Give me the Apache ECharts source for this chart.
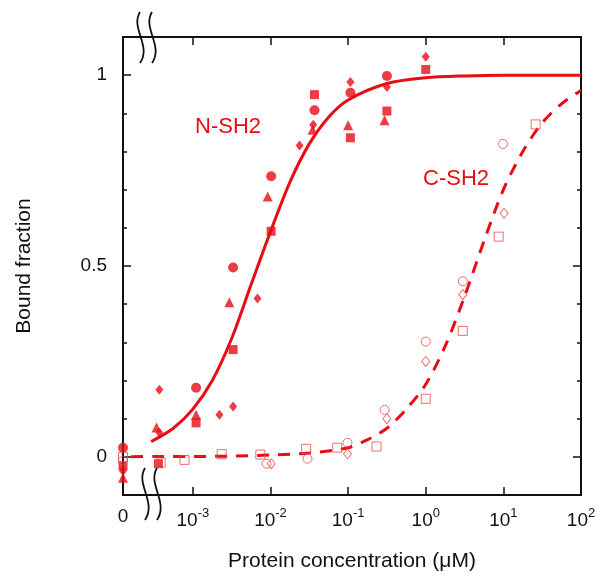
<!DOCTYPE html>
<html>
<head>
<meta charset="utf-8">
<script src="https://cdn.jsdelivr.net/npm/echarts@6/dist/echarts.min.js"></script>
<style>
  html, body { margin: 0; padding: 0; background: #fff; }
  #main { width: 599px; height: 579px; }
</style>
</head>
<body>
<div id="main"></div>
<script>
// concentrations in uM, 0 = no protein (drawn left of the axis break)
let xTicks = [-3, -2, -1, 0, 1, 2]
let yLabels = [0, 0.5, 1]

// N-SH2, filled symbols
let nCircle = [[0, 0.024], [1.1e-3, 0.181], [3.3e-3, 0.496], [0.0102, 0.735], [0.0369, 0.908], [0.107, 0.954], [0.316, 0.998]]
let nTriangle = [[0, -0.055], [3.4e-4, 0.077], [1.1e-3, 0.11], [2.95e-3, 0.405], [9.2e-3, 0.682], [0.0348, 0.857], [0.1, 0.869], [0.295, 0.882]]
let nSquare = [[0, -0.024], [3.6e-4, -0.018], [1.1e-3, 0.089], [3.3e-3, 0.281], [0.0102, 0.591], [0.0369, 0.949], [0.107, 0.836], [0.316, 0.906], [1.0, 1.015]]
let nDiamond = [[0, -0.037], [3.7e-4, 0.176], [3.7e-4, 0.064], [2.2e-3, 0.11], [3.3e-3, 0.132], [6.8e-3, 0.415], [0.0237, 0.816], [0.0355, 0.87], [0.107, 0.982], [0.316, 0.969], [1.0, 1.048]]

// C-SH2, open symbols
let cSquare = [[0, 0.0], [3.85e-4, -0.015], [7.8e-4, -0.008], [2.35e-3, 0.007], [7.4e-3, 0.006], [0.0288, 0.021], [0.0724, 0.024], [0.232, 0.027], [1.0, 0.152], [3.0, 0.33], [8.7, 0.577], [26, 0.871]]
let cCircle = [[0, -0.01], [8.9e-3, -0.018], [0.030, -0.005], [0.098, 0.037], [0.295, 0.123], [1.0, 0.302], [3.0, 0.46], [9.9, 0.82]]
let cDiamond = [[0.0102, -0.018], [0.098, 0.008], [0.316, 0.10], [1.0, 0.25], [3.0, 0.425], [10.2, 0.638]]

// fitted curves
let nCurve = [[2.9e-4, 0.04], [5.6e-4, 0.075], [1e-3, 0.125], [1.78e-3, 0.2], [3.16e-3, 0.31], [5.6e-3, 0.45], [0.01, 0.59], [0.0178, 0.72], [0.0316, 0.82], [0.056, 0.89], [0.1, 0.935], [0.316, 0.978], [1, 0.993], [3.16, 0.998], [10, 1.0], [100, 1.0]]
let cCurve = [[1.6e-4, 0.0], [3.16e-4, 0.001], [1e-3, 0.001], [3.16e-3, 0.002], [0.01, 0.005], [0.0316, 0.01], [0.1, 0.024], [0.178, 0.045], [0.316, 0.075], [0.562, 0.125], [1, 0.19], [1.78, 0.29], [3.16, 0.42], [5.62, 0.565], [10, 0.70], [17.8, 0.80], [31.6, 0.875], [56.2, 0.925], [100, 0.96]]

const ZERO_X = -3.9
const RED = '#e60d14'
const OPEN = '#f04848'
const FONT = 'Liberation Sans, Arial, sans-serif'

function toLog(list) {
  return list.map(p => [p[0] === 0 ? ZERO_X : Math.log10(p[0]), p[1]])
}

function filled(name, symbol, size, data) {
  return {
    name: name, type: 'scatter', symbol: symbol, symbolSize: size,
    data: toLog(data), clip: false, z: 4,
    itemStyle: { color: RED }
  }
}
function open(name, symbol, size, data) {
  return {
    name: name, type: 'scatter', symbol: symbol, symbolSize: size,
    data: toLog(data), clip: false, z: 4,
    itemStyle: { color: 'rgba(255,255,255,0)', borderColor: OPEN, borderWidth: 1 }
  }
}

let axisBase = {
  min: -3.9, max: 2, type: 'value',
  axisLine: { show: true, onZero: false, lineStyle: { color: '#111', width: 2 } },
  splitLine: { show: false }
}
let yBase = {
  type: 'value', min: -0.1, max: 1.1, interval: 0.1,
  axisLine: { show: true, onZero: false, lineStyle: { color: '#111', width: 2 } },
  splitLine: { show: false }
}

var myChart = echarts.init(document.getElementById('main'))

var option = {
  backgroundColor: '#fff',
  animation: false,
  grid: { left: 123, right: 18, top: 37, bottom: 84, containLabel: false, outerBoundsMode: 'none' },
  xAxis: [
    Object.assign({}, axisBase, {
      position: 'bottom',
      name: 'Protein concentration (\u03bcM)',
      nameLocation: 'middle', nameGap: 56,
      nameTextStyle: { fontSize: 21, color: '#111', fontFamily: FONT },
      axisTick: { inside: true, length: 8, customValues: xTicks.slice(0, 5), lineStyle: { color: '#111', width: 1.5 } },
      axisLabel: {
        customValues: [ZERO_X].concat(xTicks),
        margin: 12,
        formatter: function (v) {
          if (v < -3.5) return '{b|0}'
          return '{b|10}{s|' + v + '}'
        },
        rich: {
          b: { fontSize: 19, color: '#111', fontFamily: FONT },
          s: { fontSize: 13, color: '#111', fontFamily: FONT, padding: [0, 0, 14, 0] }
        }
      }
    }),
    Object.assign({}, axisBase, {
      position: 'top',
      axisTick: { inside: true, length: 8, customValues: xTicks.slice(0, 5), lineStyle: { color: '#111', width: 1.5 } },
      axisLabel: { show: false }
    })
  ],
  yAxis: [
    Object.assign({}, yBase, {
      position: 'left',
      name: 'Bound fraction', nameLocation: 'middle', nameGap: 88, nameRotate: 90,
      nameTextStyle: { fontSize: 21, color: '#111', fontFamily: FONT },
      axisTick: { inside: true, length: 4, lineStyle: { color: '#111', width: 1.5 } },
      axisLabel: { customValues: yLabels, margin: 16, fontSize: 19, color: '#111', fontFamily: FONT }
    }),
    Object.assign({}, yBase, {
      position: 'left',
      axisTick: { inside: true, length: 8, customValues: yLabels, lineStyle: { color: '#111', width: 1.5 } },
      axisLabel: { show: false }
    }),
    Object.assign({}, yBase, {
      position: 'right',
      axisTick: { inside: true, length: 4, lineStyle: { color: '#111', width: 1.5 } },
      axisLabel: { show: false }
    }),
    Object.assign({}, yBase, {
      position: 'right',
      axisTick: { inside: true, length: 8, customValues: yLabels, lineStyle: { color: '#111', width: 1.5 } },
      axisLabel: { show: false }
    })
  ],
  series: [
    {
      name: 'N-SH2 fit', type: 'line', data: toLog(nCurve), smooth: 0.3,
      symbol: 'none', clip: false, z: 3,
      lineStyle: { color: RED, width: 3 }
    },
    {
      name: 'C-SH2 fit', type: 'line', data: toLog(cCurve), smooth: 0.3,
      symbol: 'none', clip: false, z: 3,
      lineStyle: { color: RED, width: 3, type: [12, 9] }
    },
    filled('N circle', 'circle', 10, nCircle),
    filled('N triangle', 'triangle', 10, nTriangle),
    filled('N square', 'rect', 9, nSquare),
    filled('N diamond', 'diamond', [8, 10], nDiamond),
    open('C square', 'rect', 9, cSquare),
    open('C circle', 'circle', 9, cCircle),
    open('C diamond', 'diamond', [8, 10], cDiamond)
  ],
  graphic: [
    { type: 'text', left: 195, top: 116, z: 10, style: { text: 'N-SH2', fill: RED, font: '22px ' + FONT } },
    { type: 'text', left: 423, top: 168, z: 10, style: { text: 'C-SH2', fill: RED, font: '22px ' + FONT } },
    { type: 'bezierCurve', z: 10, shape: { x1: 140, y1: 12, cpx1: 130, cpy1: 28, cpx2: 152, cpy2: 46, x2: 140, y2: 63 }, style: { stroke: '#111', lineWidth: 1.8, fill: null } },
    { type: 'bezierCurve', z: 10, shape: { x1: 152, y1: 12, cpx1: 142, cpy1: 28, cpx2: 164, cpy2: 46, x2: 152, y2: 63 }, style: { stroke: '#111', lineWidth: 1.8, fill: null } },
    { type: 'bezierCurve', z: 10, shape: { x1: 145, y1: 468, cpx1: 135, cpy1: 484, cpx2: 157, cpy2: 502, x2: 145, y2: 520 }, style: { stroke: '#111', lineWidth: 1.8, fill: null } },
    { type: 'bezierCurve', z: 10, shape: { x1: 157, y1: 468, cpx1: 147, cpy1: 484, cpx2: 169, cpy2: 502, x2: 157, y2: 520 }, style: { stroke: '#111', lineWidth: 1.8, fill: null } }
  ]
}

myChart.setOption(option)
</script>
</body>
</html>
